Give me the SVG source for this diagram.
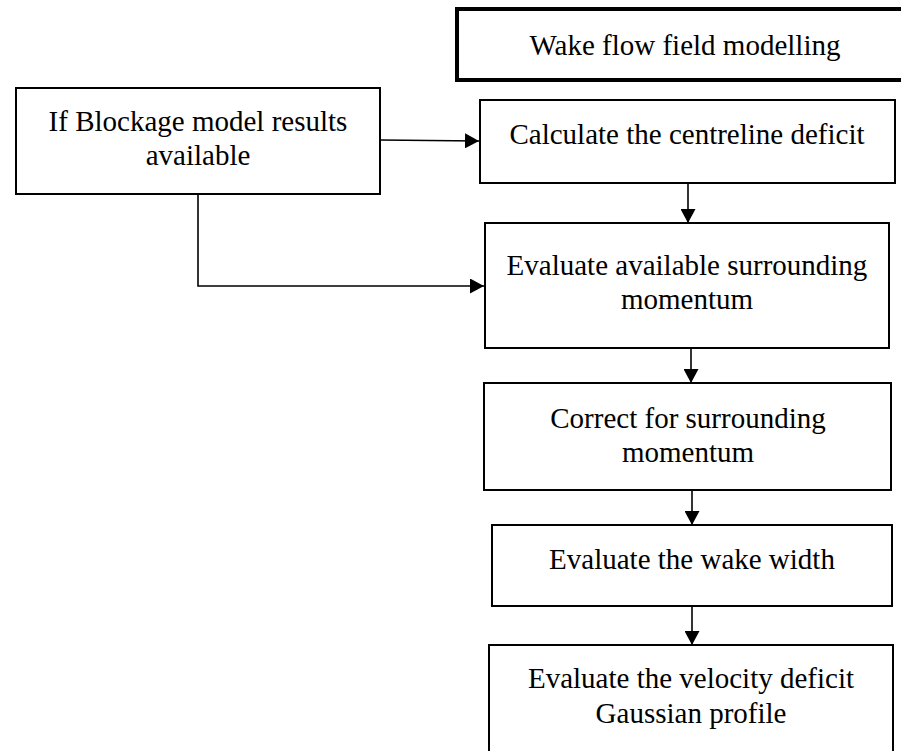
<svg xmlns="http://www.w3.org/2000/svg" width="901" height="751" viewBox="0 0 901 751">
<style>
.box{fill:#fff;stroke:#000;stroke-width:2}
.thick{fill:#fff;stroke:#000;stroke-width:4}
text{font-family:"Liberation Serif","Times New Roman",serif;font-size:29px;fill:#000;text-anchor:middle}
.conn{fill:none;stroke:#000;stroke-width:1.6}
</style>
<defs>
<marker id="ah" markerWidth="14" markerHeight="15" refX="14" refY="7.5" orient="auto" markerUnits="userSpaceOnUse">
<path d="M0,0 L14,7.5 L0,15 Z" fill="#000"/>
</marker>
</defs>
<rect width="901" height="751" fill="#fff"/>
<g id="wake">
<path class="thick" d="M910,9 L457,9 L457,80 L910,80"/>
<text x="685" y="55">Wake flow field modelling</text>
</g>
<g id="blockage">
<rect class="box" x="16" y="88" width="364" height="106"/>
<text x="198" y="131">If Blockage model results</text>
<text x="198" y="165">available</text>
</g>
<g id="centreline">
<rect class="box" x="480" y="100" width="415" height="83"/>
<text x="687" y="144">Calculate the centreline deficit</text>
</g>
<g id="surrounding">
<rect class="box" x="485" y="223" width="404" height="125"/>
<text x="687" y="275">Evaluate available surrounding</text>
<text x="687" y="309">momentum</text>
</g>
<g id="correct">
<rect class="box" x="484" y="383" width="407" height="107"/>
<text x="688" y="428">Correct for surrounding</text>
<text x="688" y="462">momentum</text>
</g>
<g id="width">
<rect class="box" x="492" y="525" width="400" height="81"/>
<text x="692" y="569">Evaluate the wake width</text>
</g>
<g id="gaussian">
<rect class="box" x="489" y="645" width="404" height="120"/>
<text x="691" y="688">Evaluate the velocity deficit</text>
<text x="691" y="723">Gaussian profile</text>
</g>
<g id="connectors">
<path class="conn" d="M380,140 L479,141" marker-end="url(#ah)"/>
<path class="conn" d="M198,194 L198,286 L484,286" marker-end="url(#ah)"/>
<path class="conn" d="M688,183 L688,223" marker-end="url(#ah)"/>
<path class="conn" d="M691,348 L691,383" marker-end="url(#ah)"/>
<path class="conn" d="M692,490 L692,525" marker-end="url(#ah)"/>
<path class="conn" d="M692,606 L692,645" marker-end="url(#ah)"/>
</g>
</svg>
